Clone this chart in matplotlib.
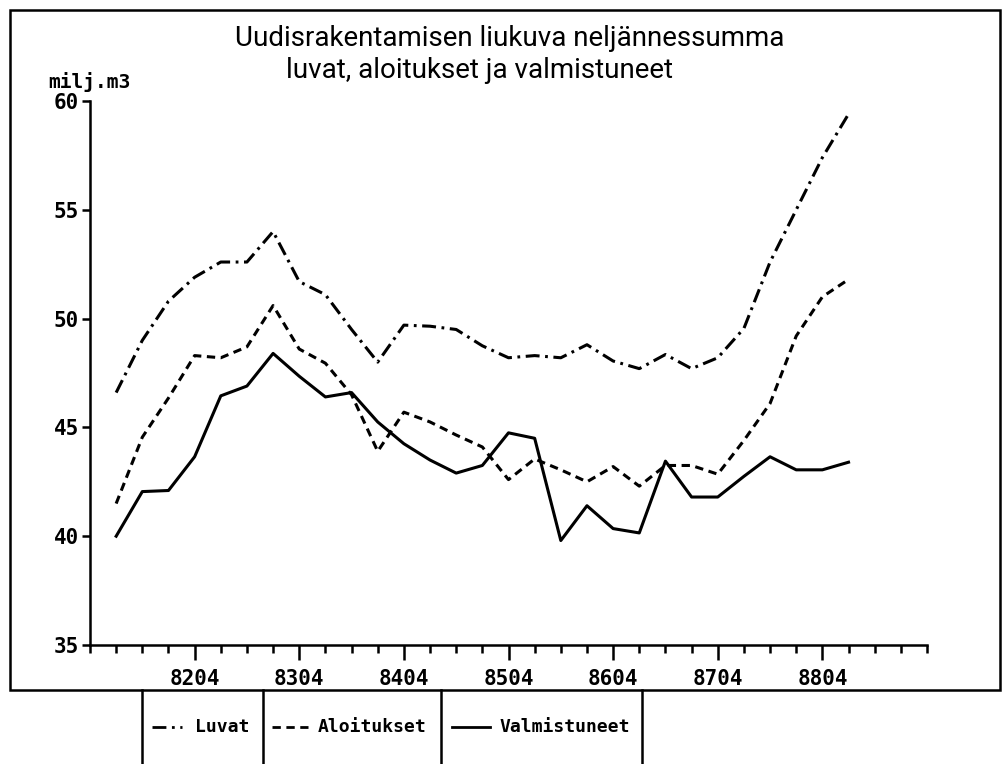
import numpy as np
import matplotlib
matplotlib.use("Agg")
import matplotlib.pyplot as plt
from matplotlib.lines import Line2D
from matplotlib.patches import Rectangle

# Quarterly data, 8201 .. 8901 (milj. m3)
quarters = ['8201', '8202', '8203', '8204', '8301', '8302', '8303', '8304',
            '8401', '8402', '8403', '8404', '8501', '8502', '8503', '8504',
            '8601', '8602', '8603', '8604', '8701', '8702', '8703', '8704',
            '8801', '8802', '8803', '8804', '8901']
luvat = [46.6, 49.0, 50.8, 51.9, 52.6, 52.6, 54.0, 51.7, 51.1, 49.5,
         48.0, 49.7, 49.65, 49.5, 48.75, 48.2, 48.3, 48.2, 48.8, 48.05,
         47.7, 48.35, 47.7, 48.2, 49.55, 52.6, 55.0, 57.4, 59.4]
aloitukset = [41.5, 44.55, 46.35, 48.3, 48.2, 48.7, 50.6, 48.6, 47.95, 46.5,
              43.9, 45.7, 45.25, 44.65, 44.1, 42.6, 43.55, 43.05, 42.5, 43.2,
              42.3, 43.25, 43.25, 42.85, 44.4, 46.1, 49.2, 51.0, 51.8]
valmistuneet = [40.0, 42.05, 42.1, 43.65, 46.45, 46.9, 48.4, 47.35, 46.4, 46.6,
                45.25, 44.25, 43.5, 42.9, 43.25, 44.75, 44.5, 39.8, 41.4, 40.35,
                40.15, 43.45, 41.8, 41.8, 42.75, 43.65, 43.05, 43.05, 43.4]
year_labels = ['8204', '8304', '8404', '8504', '8604', '8704', '8804']

plt.rcParams['lines.scale_dashes'] = False
W, H = 1008, 764
fig = plt.figure(figsize=(W / 100, H / 100), dpi=100)
ax = fig.add_axes([90 / W, 1 - 645 / H, 837 / W, 544 / H])

x = np.arange(1, len(quarters) + 1)
dashdot = (0, (10, 4, 2, 4))
dashed = (0, (6, 4))
ax.plot(x, luvat, color='black', lw=2.2, linestyle=dashdot)
ax.plot(x, aloitukset, color='black', lw=2.2, linestyle=dashed)
ax.plot(x, valmistuneet, color='black', lw=2.2, linestyle='-')

ax.set_xlim(0, 32)
ax.set_ylim(35, 60)
ax.spines['top'].set_visible(False)
ax.spines['right'].set_visible(False)
for s in ['left', 'bottom']:
    ax.spines[s].set_linewidth(1.8)

tickfont = dict(family='DejaVu Sans Mono', weight='bold', size=15)
ax.set_xticks(np.arange(4, 29, 4))
ax.set_xticklabels(year_labels, **tickfont)
ax.set_xticks(np.arange(0, 33, 1), minor=True)
ax.tick_params(axis='x', which='major', length=11, width=1.8, pad=6)
ax.tick_params(axis='x', which='minor', length=6, width=1.8)
ax.set_yticks(np.arange(35, 61, 5))
ax.set_yticklabels([str(v) for v in range(35, 61, 5)], **tickfont)
ax.tick_params(axis='y', length=6, width=1.8, pad=2)

fig.text(48 / W, 1 - 88 / H, 'milj.m3', ha='left', va='baseline',
         family='DejaVu Sans Mono', weight='bold', size=14)

titlefont = dict(family=['Roboto', 'DejaVu Sans'], size=20)
fig.text(510 / W, 1 - 38 / H, 'Uudisrakentamisen liukuva neljännessumma',
         ha='center', va='center', **titlefont)
fig.text(480 / W, 1 - 70 / H, 'luvat, aloitukset ja valmistuneet',
         ha='center', va='center', **titlefont)

# outer frame
fig.add_artist(Rectangle((10 / W, 1 - 690 / H), 990 / W, 680 / H,
                         transform=fig.transFigure, fill=False, lw=1.8,
                         edgecolor='black'))

# legend boxes under the frame
for px in [142, 263, 441, 642]:
    fig.add_artist(Line2D([px / W, px / W], [1 - 690 / H, 0],
                          transform=fig.transFigure, color='black', lw=1.8))
ly = 1 - 727 / H
legfont = dict(family='DejaVu Sans Mono', weight='bold', size=13)
items = [(152, 182, dashdot, 'Luvat', 195),
         (272, 308, dashed, 'Aloitukset', 318),
         (452, 490, '-', 'Valmistuneet', 500)]
for x0, x1, ls, label, tx in items:
    fig.add_artist(Line2D([x0 / W, x1 / W], [ly, ly], transform=fig.transFigure,
                          color='black', lw=2.0, linestyle=ls))
    fig.text(tx / W, ly, label, ha='left', va='center', **legfont)

fig.savefig('out.png', dpi=100)
